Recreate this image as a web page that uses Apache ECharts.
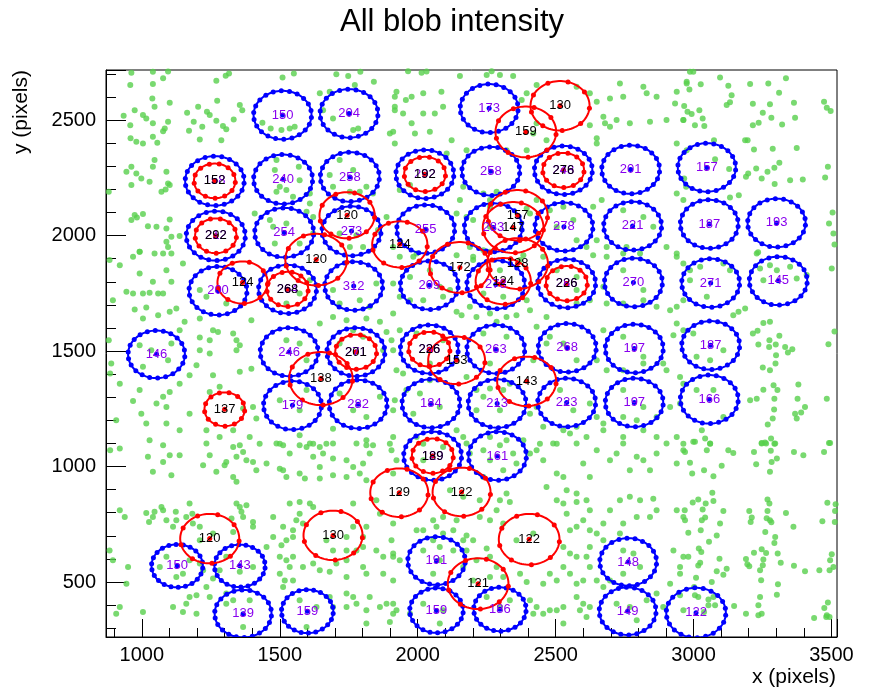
<!DOCTYPE html>
<html>
<head>
<meta charset="utf-8">
<script src="https://cdn.jsdelivr.net/npm/echarts@6/dist/echarts.min.js"></script>
<style>html,body{margin:0;padding:0;background:#fff;}#c{width:877px;height:687px;}</style>
</head>
<body>
<div id="c"></div>
<script>
// ---- DATA ----
const titleText = 'All blob intensity';
const xTitle = 'x (pixels)';
const yTitle = 'y (pixels)';
const xRange = [870, 3520];
const yRange = [262, 2717];

// blue blobs: [x, y, radius, label]
const blueBlobs = [
[1510,2522,105,'150'],[1751,2529,105,'204'],[2259,2551,105,'173'],
[1264,2237,107,'158'],[1512,2244,107,'240'],[1754,2254,107,'258'],[2026,2266,105,'292'],[2265,2279,105,'258'],[2528,2283,105,'248'],[2772,2286,105,'201'],[3048,2295,105,'157'],
[1268,1999,107,'212'],[1516,2013,107,'254'],[1760,2020,107,'273'],[2029,2028,105,'255'],[2274,2035,105,'283'],[2530,2038,105,'278'],[2779,2042,105,'221'],[3057,2050,105,'187'],[3301,2055,105,'193'],
[1276,1761,105,'200'],[1528,1768,105,'264'],[1768,1782,105,'312'],[2042,1785,105,'209'],[2283,1788,105,'278'],[2540,1793,105,'286'],[2782,1797,105,'270'],[3062,1795,105,'271'],[3307,1804,105,'145'],
[1053,1486,103,'146'],[1534,1496,105,'246'],[1776,1496,105,'271'],[2042,1508,105,'236'],[2283,1508,105,'263'],[2542,1514,105,'268'],[2785,1511,105,'197'],[3062,1525,105,'187'],
[1546,1265,105,'179'],[1784,1270,105,'282'],[2048,1273,105,'184'],[2288,1273,105,'213'],[2540,1277,105,'223'],[2785,1277,105,'197'],[3057,1291,105,'166'],
[2054,1046,105,'129'],[2289,1046,105,'161'],
[1128,570,93,'150'],[1355,570,92,'143'],[1367,363,103,'139'],[1600,373,94,'159'],[2068,592,104,'191'],[2068,377,97,'159'],[2298,382,95,'186'],[2763,587,103,'148'],[2761,374,103,'149'],[3009,367,108,'122']
];

// red blobs: [x, y, radius, label]
const redBlobs = [
[2516,2562,107,'130'],[2392,2449,110,'159'],[1264,2237,75,'152'],[2026,2266,75,'192'],[2528,2283,75,'276'],
[1744,2088,100,'120'],[1268,1999,75,'292'],[2362,2088,109,'157'],[2346,2035,110,'147'],[1935,1962,100,'124'],
[1632,1896,112,'120'],[2153,1862,110,'172'],[2362,1879,110,'128'],[2310,1803,100,'124'],[2540,1793,75,'226'],
[1365,1797,91,'124'],[1528,1768,75,'268'],[1776,1496,75,'201'],[2042,1508,75,'226'],[2141,1460,103,'153'],
[1649,1381,115,'138'],[2395,1369,107,'143'],[1300,1248,73,'137'],[2054,1046,75,'189'],[1933,887,105,'129'],
[2159,890,105,'122'],[2404,685,110,'122'],[2219,493,110,'121'],[1246,688,107,'120'],[1693,702,107,'130']
];

// green points: [x, y]
const greenPoints = [
[962,2705],[1040,2709],[1095,2710],[1077,2681],[958,2652],[1040,2656],[1316,2702],[1304,2692],[1270,2670],[1510,2685],[1551,2702],[1705,2699],[1748,2691],[1792,2709],[1841,2666],[1772,2652],
[1038,2594],[1101,2575],[1046,2558],[974,2543],[1004,2522],[1016,2507],[934,2519],[958,2478],[1040,2486],[1095,2493],[1083,2464],[1077,2452],[959,2421],[980,2406],[1004,2399],[1040,2428],[1056,2402],
[1164,2532],[1204,2558],[1236,2536],[1246,2522],[1270,2497],[1188,2493],[1219,2471],[1171,2454],[1210,2416],[1294,2474],[1306,2460],[1288,2413],[1333,2503],[1364,2543],[1355,2565],[1273,2584],
[1437,2489],[1467,2464],[1506,2457],[1536,2464],[1554,2471],[1645,2616],[1681,2623],[1657,2543],[1693,2507],[1766,2457],[1784,2464],[1917,2601],[1917,2543],[1911,2450],[1899,2442],
[944,2276],[962,2298],[980,2269],[998,2247],[1028,2233],[962,2219],[1046,2327],[1040,2298],[1089,2276],[1095,2226],[1086,2200],[1071,2190],[1101,2219],[880,2190],
[974,2089],[962,2067],[1004,2093],[982,2078],[1101,2070],[1089,2031],[1022,2041],[1053,2038],[1107,1995],[1137,1998],[1089,1973],[1095,1951],[1077,1922],[992,1930],[968,1908],
[1409,2096],[1488,2327],[1482,2284],[1569,2298],[1572,2240],[1500,2211],[1524,2197],[1488,2190],[1548,2168],[1609,2139],[1597,2103],[1621,2081],[1621,2009],[1524,2052],[1464,2067],[1476,2038],[1482,1966],[1572,1966],[1609,2182],
[1681,2262],[1717,2327],[1766,2284],[1754,2190],[1790,2190],[1693,2211],[1814,2211],[1838,2182],[1717,2009],[1778,2002],[1802,1951],[1754,1951],[1856,2024],[1887,2081],[1911,1951],
[1965,2712],[2014,2705],[2032,2710],[2153,2691],[2250,2695],[2268,2712],[2298,2695],[2346,2691],[1923,2623],[1957,2587],[1978,2601],[2020,2616],[2086,2623],[1917,2558],[1947,2529],[2020,2529],[2092,2558],[2062,2529],[2044,2450],[1990,2442],[1978,2486],[2123,2413],[1917,2399],[2105,2356],[2177,2370],
[2395,2616],[2377,2587],[2431,2652],[2576,2644],[2624,2616],[2649,2580],[2697,2594],[2733,2659],[2745,2601],[2818,2644],[2830,2616],[2866,2601],[2939,2623],[2933,2572],[2963,2500],[2975,2659],
[2679,2486],[2697,2471],[2649,2421],[2649,2399],[2624,2478],[2673,2515],[2721,2500],[2769,2486],[2842,2493],[2902,2500],[2939,2399],[2975,2370],[2431,2486],[2419,2442],[2395,2370],[2467,2413],[2322,2370],
[1935,2197],[1972,2219],[2153,2154],[2165,2211],[2141,2096],[2177,2081],[2262,2154],[2286,2190],[2238,2182],[2262,2125],[2431,2154],[2395,2117],[2407,2096],[2667,2154],[2636,2125],[2939,2182],[2963,2154],
[2612,1951],[2649,1980],[2685,1951],[2902,1951],[2939,1908],[1984,1908],[2189,1951],[2238,1937],[2201,1908],[2371,1894],[2262,2038],[2201,2067],[2504,2038],[2564,2067],[2576,1980],[2745,2110],[2818,2081],[2854,2038],[2757,1951],[2528,2125],[2479,2110],
[2987,2709],[2999,2709],[3096,2685],[2975,2666],[3026,2655],[2985,2633],[3126,2649],[3138,2608],[3132,2577],[3120,2565],[3205,2656],[3271,2659],[3335,2681],[3310,2618],[2966,2561],[2978,2536],[2993,2526],[3021,2543],[3033,2507],[3005,2478],[2963,2500],[3039,2474],
[3215,2571],[3277,2569],[3251,2532],[3282,2510],[3236,2489],[3215,2478],[3321,2481],[3368,2510],[3364,2575],[3473,2580],[3483,2554],[3497,2539],[3187,2413],[3196,2413],[3219,2373],[3287,2376],[3374,2379],
[3311,2315],[3293,2294],[3268,2276],[3247,2247],[3227,2291],[3198,2269],[3190,2255],[3350,2240],[3396,2243],[3294,2223],[3477,2252],[3487,2298],[3078,2331],[3129,2288],[3132,2165],[3164,2175],[3074,2413],[3234,1928],[3504,2100],[3491,2052],[3507,2009],[3511,1961],[2966,2247],[2973,2211],
[992,1930],[1046,1923],[1107,1923],[883,1894],[920,1872],[992,1836],[1040,1800],[1089,1850],[1149,1879],[1107,1800],[1077,1749],[944,1757],[968,1749],[1004,1749],[1028,1752],[1059,1749],[895,1720],[974,1680],[1016,1689],[1101,1670],[1125,1684],[1059,1655],[1004,1641],[1155,1627],[1210,1641],[1397,1634],
[1137,1590],[1258,1590],[1276,1583],[1246,1547],[1331,1576],[1343,1547],[1355,1525],[1343,1504],[1210,1559],[880,1547],[889,1446],[992,1525],[1034,1504],[1107,1533],[1095,1460],[1004,1432],[1210,1504],[1198,1439],[1246,1489],[1397,1424],[1355,1410],[1258,1395],[1173,1395],
[1282,1345],[1246,1323],[1137,1359],[1101,1323],[1077,1302],[992,1331],[968,1284],[1053,1273],[998,1229],[1089,1258],[1173,1229],[1403,1258],[1367,1251],[1016,1186],[1089,1186],[1137,1157],[1234,1157],[1282,1128],[1331,1157],[1355,1092],[1391,1128],[1028,1114],[1077,1092],[907,1201],[920,1359],[885,1403],
[1645,1619],[1693,1648],[1742,1634],[1766,1590],[1814,1641],[1863,1627],[1911,1663],[1887,1583],[1415,1208],[1427,1099],[1500,1099],[1572,1136],[1621,1099],[1669,1099],[1693,1164],[1814,1114],[1838,1092],[1899,1099],[1911,1128],
[1210,1764],[1234,1735],[1306,1706],[1524,1706],[1572,1749],[1609,1807],[1693,1764],[1717,1706],[1790,1720],[1826,1692],[1850,1793],[1524,1547],[1572,1533],[1597,1460],[1717,1533],[1802,1562],[1875,1504],[1500,1287],[1597,1331],[1572,1244],[1717,1316],[1766,1244],[1814,1215],[1863,1302],
[1935,1908],[1996,1923],[2141,1915],[2201,1894],[2262,1930],[2383,1915],[2455,1908],[2636,1915],[2685,1908],[2745,1923],[2806,1923],[2939,1923],[2963,1879],[1911,1793],[1935,1735],[1972,1720],[2080,1778],[2117,1764],[2395,1720],[2407,1677],[2322,1648],[2358,1655],[2189,1692],[2213,1648],[2159,1655],[2141,1670],[2262,1663],[2286,1627],[2467,1648],
[2576,1706],[2624,1720],[2673,1778],[2685,1706],[2745,1706],[2818,1720],[2866,1692],[2915,1677],[2939,1692],[2963,1720],[2939,1619],[2927,1569],[2963,1590],[1935,1590],[1905,1547],[1911,1504],[1923,1417],[1947,1403],[2044,1374],[2177,1388],[2213,1331],[2262,1338],[2310,1331],[2334,1359],[2419,1460],[2431,1605],[2467,1533],
[2673,1590],[2649,1460],[2685,1417],[2745,1417],[2818,1446],[2890,1446],[2902,1417],[2951,1388],[2963,1359],[2624,1273],[2649,1215],[2673,1186],[2745,1215],[2794,1201],[2866,1215],[2915,1258],[2951,1273],[1917,1287],[1911,1244],[1959,1331],
[1996,1128],[2020,1099],[2141,1157],[2165,1128],[2262,1128],[2322,1114],[2383,1114],[2443,1099],[2504,1099],[2552,1143],[2612,1128],[2673,1157],[2745,1128],[2818,1157],[2866,1128],[2939,1128],[2963,1099],[2407,1229],[2431,1258],[2455,1172],[2528,1157],[2576,1172],
[1972,1821],[2044,1850],[2092,1735],[2020,1720],[2238,1749],[2310,1735],[2298,1850],[2504,1850],[2576,1764],[2576,1821],[2745,1850],[2818,1764],[1996,1576],[2092,1547],[2044,1446],[2238,1576],[2322,1562],[2262,1446],[2479,1562],[2576,1460],[2528,1533],[2745,1562],[2818,1475],[2008,1316],[2080,1258],[1984,1229],[2238,1302],[2298,1244],[2213,1244],[2516,1331],[2564,1244],[2745,1331],[2818,1258],
[3229,1923],[3501,1858],[2987,1807],[3024,1865],[3108,1879],[3132,1850],[3241,1858],[3277,1872],[3350,1865],[3374,1814],[3410,1829],[3253,1807],[3302,1850],[3187,1684],[3163,1670],[3144,1655],[2987,1850],[3048,1735],
[3253,1622],[3277,1627],[3215,1576],[3232,1588],[3275,1547],[3311,1566],[3235,1528],[3274,1518],[3298,1528],[3332,1518],[3358,1508],[3342,1494],[3299,1482],[3297,1446],[3251,1429],[3277,1417],[3511,1585],[3489,1530],[2999,1576],[3011,1475],[3108,1504],[3060,1460],
[3205,1287],[3229,1294],[3253,1333],[3290,1352],[3304,1331],[3293,1294],[3292,1247],[3287,1208],[3269,1182],[3380,1355],[3377,1294],[3404,1258],[3368,1229],[3374,1208],[3390,1234],[3483,1294],[3108,1215],[3072,1331],[3011,1331],[3030,1157],[3042,1121],[3060,1099],[2999,1107],[3247,1102],[3259,1104],[3281,1121],[3293,1099],[3495,1102],
[885,1071],[920,1078],[1022,1042],[1101,1049],[1137,1049],[1040,977],[1107,962],[1077,1020],[1234,1100],[1246,1049],[1306,1020],[1331,1085],[1343,1042],[1367,1063],[1379,1027],[1222,1006],[1270,977],[1300,1006],[1331,955],[1403,1020],[1415,984],[1452,1013],[1343,934],
[1488,1100],[1512,1092],[1536,1056],[1572,1092],[1597,1085],[1609,1100],[1645,1085],[1693,1100],[1778,1100],[1814,1092],[1826,1056],[1621,1042],[1645,998],[1657,1056],[1693,1035],[1742,1027],[1766,998],[1802,1013],[1512,984],[1524,955],[1572,970],[1591,948],[1645,948],[1693,962],[1742,955],[1790,970],[1814,941],[1500,991],
[920,811],[938,782],[1016,799],[1046,804],[1071,825],[1077,811],[1040,782],[1026,760],[1089,767],[1123,804],[1173,840],[1183,796],[1125,767],[1113,739],[1161,782],[1185,753],[1210,739],[1343,840],[1355,825],[1379,832],[1361,804],[1325,775],[1367,782],[1403,760],[1403,739],[1331,717],
[883,637],[895,594],[950,565],[944,493],[1149,536],[1173,435],[1198,443],[1161,406],[1113,392],[1149,370],[1198,363],[920,392],[907,363],[1004,370],[1258,515],[1234,479],[1246,435],[1306,450],[1306,406],[1210,580],[1222,551],
[1476,782],[1512,739],[1536,840],[1572,847],[1609,840],[1621,825],[1572,796],[1584,753],[1560,767],[1548,724],[1548,695],[1524,681],[1506,659],[1476,695],[1452,652],[1500,609],[1524,594],[1548,609],[1536,565],[1500,536],[1518,507],[1584,565],[1621,580],[1645,551],[1681,544],[1705,580],[1742,594],[1742,637],[1778,637],[1802,695],[1802,652],
[1766,840],[1766,739],[1814,739],[1814,536],[1802,565],[1742,522],[1742,450],[1766,435],[1814,378],[1826,435],[1778,406],[1863,392],[1887,406],[1911,363],[1899,327],[1681,435],[1693,392],[1742,392],[1814,320],[1875,536],[1911,507],[1850,637],[1875,609],[1911,609],[1850,854],[1863,796],[1911,753],[1512,479],[1548,507],
[1089,609],[1173,594],[1065,565],[1125,522],[1306,609],[1282,551],[1355,544],[1403,565],[1331,421],[1391,421],[1367,305],[1572,421],[1633,392],[1597,305],[1669,681],[1693,637],[1742,695],[1258,710],[1210,681],
[1905,1071],[1923,1027],[1911,970],[2177,1100],[2189,1056],[2238,1071],[2298,1092],[2346,1056],[2358,1013],[2407,1056],[2431,1071],[2455,1027],[2491,1100],[2504,970],[2528,955],[2576,1100],[2600,1013],[2649,1071],[2697,1027],[2721,1056],[2745,1100],[2794,1042],[2769,984],[2818,1027],[2842,984],[2866,1056],[2902,1100],[2939,1013],[2963,1071],[2467,912],[2540,897],[2576,883],[2624,955],
[2298,854],[2334,847],[2286,811],[2262,767],[2310,753],[2225,782],[2141,767],[2092,782],[2056,767],[2068,739],[2020,724],[1996,724],[2092,710],[2129,724],[2177,702],[2201,681],[2250,645],[2262,609],[2213,594],[2286,565],[2310,522],[2371,536],[2395,500],[2455,493],[2479,536],[2504,507],[2528,565],[2552,536],[2576,493],[2600,507],[2624,565],[2649,507],[2673,479],[2697,507],
[2504,854],[2528,840],[2540,796],[2576,847],[2612,854],[2624,811],[2600,767],[2576,739],[2552,724],[2624,724],[2649,710],[2673,681],[2624,652],[2612,609],[2576,609],[2552,623],[2528,652],[2733,854],[2769,869],[2806,854],[2854,861],[2866,811],[2842,782],[2794,782],[2745,753],[2733,710],[2697,811],[2673,753],[2939,811],[2963,782],[2927,637],[2963,609],[2951,536],[2915,493],[2866,450],[2830,421],[2890,392],
[2576,435],[2600,406],[2528,392],[2504,378],[2479,378],[2431,392],[2407,421],[2419,363],[2455,363],[2624,392],[2588,378],[2612,349],[2528,320],[1911,406],[1923,378],[1972,363],[1905,681],[1911,623],[1935,594],[2056,681],[2080,652],[2129,637],[2177,637],[2165,681],[2262,522],[2201,507],[2165,565],
[2020,637],[2080,594],[2056,536],[2020,406],[2092,378],[2080,320],[2250,435],[2298,392],[2334,421],[2745,637],[2782,623],[2806,565],[2745,536],[2721,406],[2769,392],[2794,334],[2092,1085],[2020,1027],[2262,1027],[2310,984],[2238,955],[2322,883],[2358,681],[2419,710],[2165,869],[2225,854],[2117,897],
[3005,1107],[3060,1100],[2969,1063],[3048,1071],[3126,1071],[3144,1059],[3219,1063],[3247,1100],[3263,1100],[3296,1100],[3280,1068],[3302,1035],[3283,1020],[3364,1063],[3398,1049],[3473,1063],[3491,1102],[2987,1016],[3038,984],[3072,958],[3102,1004],[3227,1010],[3277,977],[2995,970],
[3068,887],[2997,844],[3017,857],[3044,840],[3072,851],[2968,811],[3033,814],[3108,808],[2969,767],[3042,779],[3030,767],[3096,753],[2981,713],[3026,724],[3084,702],[3056,674],[3019,645],[3028,630],[2981,609],[3094,601],[3017,572],[3024,583],[2951,565],[3084,547],[3120,558],[3108,532],[3009,518],[3066,500],
[3202,808],[3211,779],[3207,760],[3268,857],[3275,840],[3268,808],[3277,767],[3265,776],[3282,759],[3260,717],[3296,695],[3293,669],[3335,799],[3362,739],[3219,627],[3247,642],[3263,626],[3253,598],[3190,600],[3195,577],[3202,568],[3251,573],[3241,551],[3245,508],[3305,623],[3316,583],[3364,570],[3404,547],[3456,551],[3493,551],[3501,620],[3507,565],[3495,594],
[3467,763],[3485,843],[3513,808],[3515,837],[3512,760],[3306,490],[3302,445],[3241,435],[3235,399],[3247,363],[3235,356],[3190,363],[3147,396],[3487,411],[3474,388],[3483,356],[3493,349],[3437,344],[3481,349],[2951,443],[2963,378],[3054,424],[3078,399],[3072,435],[3005,443],[3038,370],[3054,399],[3002,479],[3017,435]
];

// ---- CHART ----
const chart = echarts.init(document.getElementById('c'), null, {renderer: 'canvas'});
const FONT = '"Liberation Sans", Arial, sans-serif';

function blobRenderer(lineColor, dotCountFn) {
  return function (params, api) {
    const x = api.value(0), y = api.value(1), r = api.value(2);
    const c = api.coord([x, y]);
    const s = api.size([r, r]);
    const rx = s[0], ry = s[1];
    const pts = [];
    const n = 90;
    for (let i = 0; i < n; i++) {
      const a = 2 * Math.PI * i / n;
      pts.push([c[0] + rx * Math.cos(a), c[1] + ry * Math.sin(a)]);
    }
    const children = [{
      type: 'polygon', shape: {points: pts},
      style: {fill: 'none', stroke: lineColor, lineWidth: 2}
    }];
    const nd = dotCountFn(r);
    for (let k = 0; k < nd; k++) {
      const a = 2 * Math.PI * k / nd + 0.1;
      children.push({type: 'circle', shape: {cx: c[0] + rx * Math.cos(a), cy: c[1] + ry * Math.sin(a), r: 2.5},
        style: {fill: lineColor}});
    }
    children.push({type: 'circle', shape: {cx: c[0], cy: c[1], r: 2.5}, style: {fill: lineColor}});
    return {type: 'group', children: children};
  };
}

function labelRenderer(color) {
  return function (params, api) {
    const c = api.coord([api.value(0), api.value(1)]);
    return {type: 'text', x: c[0], y: c[1],
      style: {text: String(api.value(3)), fill: color, font: '13px ' + FONT, textAlign: 'center', textVerticalAlign: 'middle'}};
  };
}

const plainNum = function (v) { return String(Math.round(v)); };

const option = {
  animation: false,
  backgroundColor: '#fff',
  grid: {left: 106, right: 40, top: 70, bottom: 50, show: true, borderColor: '#000', borderWidth: 1, backgroundColor: 'transparent'},
  xAxis: {
    type: 'value', min: xRange[0], max: xRange[1], splitNumber: 5,
    axisLine: {show: true, onZero: false, lineStyle: {color: '#000', width: 1}},
    axisTick: {show: true, inside: true, length: 18, lineStyle: {color: '#000', width: 1}},
    minorTick: {show: true, splitNumber: 5, length: 9, lineStyle: {color: '#000', width: 1}},
    axisLabel: {color: '#000', fontSize: 20, fontFamily: FONT, margin: 8, showMinLabel: false, showMaxLabel: false, formatter: plainNum},
    splitLine: {show: false}, minorSplitLine: {show: false}
  },
  yAxis: {
    type: 'value', min: yRange[0], max: yRange[1], splitNumber: 5,
    axisLine: {show: true, onZero: false, lineStyle: {color: '#000', width: 1}},
    axisTick: {show: true, inside: true, length: 20, lineStyle: {color: '#000', width: 1}},
    minorTick: {show: true, splitNumber: 5, length: 10, lineStyle: {color: '#000', width: 1}},
    axisLabel: {color: '#000', fontSize: 20, fontFamily: FONT, margin: 10, showMinLabel: false, showMaxLabel: false, formatter: plainNum},
    splitLine: {show: false}, minorSplitLine: {show: false}
  },
  graphic: [
    {type: 'text', x: 452, y: 22, style: {text: titleText, font: '31px ' + FONT, fill: '#000', textAlign: 'center', textVerticalAlign: 'middle'}},
    {type: 'text', x: 836, y: 677, style: {text: xTitle, font: '21px ' + FONT, fill: '#000', textAlign: 'right', textVerticalAlign: 'middle'}},
    {type: 'text', x: 21, y: 70, rotation: Math.PI / 2, style: {text: yTitle, font: '21px ' + FONT, fill: '#000', textAlign: 'right', textVerticalAlign: 'middle'}}
  ],
  series: [
    {type: 'scatter', data: greenPoints, symbol: 'circle', symbolSize: 6, itemStyle: {color: '#57cf4c'}, z: 1, clip: true, silent: true},
    {type: 'custom', data: blueBlobs, renderItem: blobRenderer('#0000ff', function () { return 22; }), clip: true, z: 2, silent: true},
    {type: 'custom', data: redBlobs, renderItem: blobRenderer('#ff0000', function (r) { return r < 80 ? 13 : 9; }), clip: true, z: 3, silent: true},
    {type: 'custom', data: blueBlobs, renderItem: labelRenderer('#8800ee'), clip: true, z: 4, silent: true},
    {type: 'custom', data: redBlobs, renderItem: labelRenderer('#000000'), clip: true, z: 5, silent: true}
  ]
};
chart.setOption(option);
</script>
</body>
</html>
